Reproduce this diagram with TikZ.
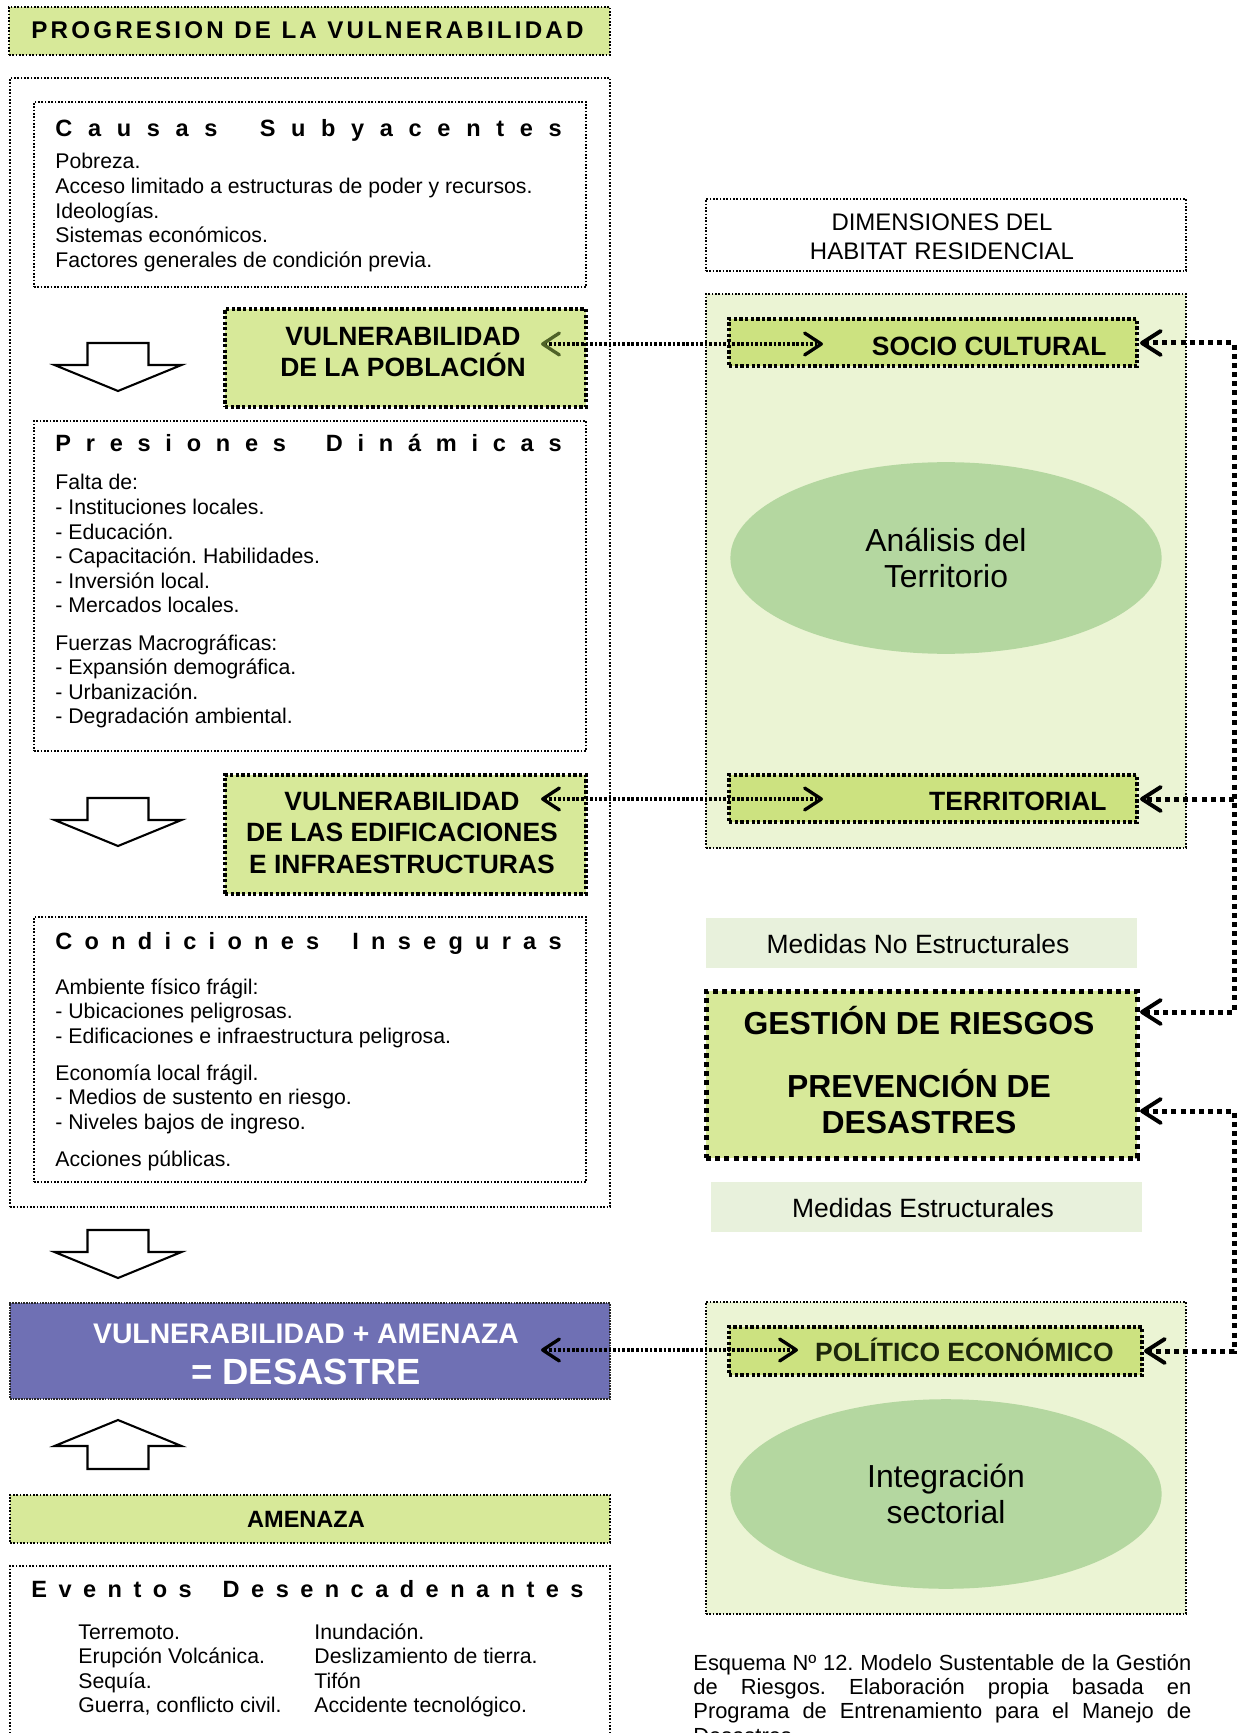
\documentclass[tikz,border=0pt]{standalone}
\usepackage{fontspec}
\setmainfont{Liberation Sans}
\usetikzlibrary{arrows.meta,fit,shapes.geometric}

\definecolor{titlegreen}{RGB}{215,233,153}
\definecolor{panelgreen}{RGB}{235,244,212}
\definecolor{dimgreen}{RGB}{204,226,128}
\definecolor{ovalgreen}{RGB}{180,215,160}
\definecolor{paleband}{RGB}{232,241,220}
\definecolor{disasterblue}{RGB}{111,112,180}
\definecolor{olivetip}{RGB}{79,98,40}
\definecolor{darkolive}{RGB}{28,38,12}

% letter-spaced headings spread over a fixed width
\newcommand\spreadline[2]{\makebox[#1][s]{#2}}
\newcommand\lsp{\hfill}
\newcommand\wsp{\hspace{0pt plus 2.7fill}}
\newcommand\twsp{\hspace{0pt plus 3.3fill}}

\tikzset{
  finebox/.style={draw=black, line width=0.8pt, dash pattern=on 0.8pt off 0.8pt, inner sep=0pt},
  medbox/.style={draw=black, line width=1.8pt, dash pattern=on 1.6pt off 1.1pt, inner sep=0pt},
  heavybox/.style={draw=black, line width=2.4pt, dash pattern=on 2.4pt off 2pt, inner sep=0pt},
  densebox/.style={draw=black!85, line width=1pt, dash pattern=on 0.8pt off 0.5pt, inner sep=0pt},
  band/.style={fill=paleband, inner sep=0pt},
  bandtext/.style={inner sep=0pt, font=\fontsize{12.7}{15}\selectfont},
  oval/.style={ellipse, fill=ovalgreen, inner sep=0pt, minimum width=207pt,
    font=\fontsize{15.3}{17.5}\selectfont, align=center},
  bodytext/.style={anchor=base west, inner sep=0pt, font=\fontsize{10.2}{11.8}\selectfont},
  header/.style={anchor=base west, inner sep=0pt, font=\bfseries\fontsize{11.3}{12}\selectfont},
  boxlabel/.style={font=\bfseries\fontsize{12.7}{15.2}\selectfont, align=center, inner sep=0pt},
  blockarrow/.style={draw=black, line width=1pt, fill=white, line join=miter},
  link/.style={line width=1.7pt, dash pattern=on 1.3pt off 0.9pt},
  rail/.style={line width=2.4pt, dash pattern=on 2.4pt off 2pt},
  chev/.tip={Straight Barb[length=8pt, width=10.5pt, line width=1.6pt, round]},
  olivechev/.tip={Straight Barb[length=8pt, width=10.5pt, line width=1.6pt, round, color=olivetip]},
  bigchev/.tip={Straight Barb[length=9pt, width=11.5pt, line width=1.9pt, round]},
  downblock/.pic={\draw[blockarrow] (-30.5,0) -- (30.5,0) -- (30.5,22) -- (63.5,22)
      -- (0,48) -- (-63.5,22) -- (-30.5,22) -- cycle;},
  upblock/.pic={\draw[blockarrow] (0,0) -- (63.5,26) -- (30.5,26) -- (30.5,49)
      -- (-30.5,49) -- (-30.5,26) -- (-63.5,26) -- cycle;}
}

\begin{document}
\frenchspacing
\begin{tikzpicture}[x=0.48pt, y=-0.48pt]
\useasboundingbox (0,0) rectangle (1241,1733);
\fill[white] (0,0) rectangle (1241,1733);

% ---------------- left column: progression of vulnerability ----------------
\node[finebox, fill=titlegreen, fit={(9,7) (610,55)}] (title) {};
\node[anchor=base west, inner sep=0pt, font=\bfseries\fontsize{11.6}{12}\selectfont]
  (titletext) at (31,39) {\spreadline{265pt}{P\lsp R\lsp O\lsp G\lsp R\lsp E\lsp S\lsp I\lsp O\lsp N\twsp
  D\lsp E\twsp L\lsp A\twsp V\lsp U\lsp L\lsp N\lsp E\lsp R\lsp A\lsp B\lsp I\lsp L\lsp I\lsp D\lsp A\lsp D}};

\node[finebox, fit={(10,78) (610,1207)}] (frame) {};

% underlying causes
\node[finebox, fit={(34,102) (586,287)}] (causas) {};
\node[header] (causasHead) at (55,137) {\spreadline{243pt}{C\lsp a\lsp u\lsp s\lsp a\lsp s\wsp
  S\lsp u\lsp b\lsp y\lsp a\lsp c\lsp e\lsp n\lsp t\lsp e\lsp s}};
\node[bodytext] (causasText) at (55,169) {\begin{tabular}[t]{@{}l@{}}
  Pobreza.\\
  Acceso limitado a estructuras de poder y recursos.\\
  Ideologías.\\
  Sistemas económicos.\\
  Factores generales de condición previa.
\end{tabular}};

\pic at (118,343) {downblock};
\node[medbox, fill=titlegreen, fit={(225,309) (586,407)}] (vpob) {};
\node[boxlabel] (vpobText) at (403,352) {VULNERABILIDAD\\DE LA POBLACIÓN};

% dynamic pressures
\node[finebox, fit={(34,421) (586,751)}] (presiones) {};
\node[header] (presionesHead) at (55,452) {\spreadline{243pt}{P\lsp r\lsp e\lsp s\lsp i\lsp o\lsp n\lsp e\lsp s\wsp
  D\lsp i\lsp n\lsp á\lsp m\lsp i\lsp c\lsp a\lsp s}};
\node[bodytext] (presionesText) at (55,490) {\begin{tabular}[t]{@{}l@{}}
  Falta de:\\
  - Instituciones locales.\\
  - Educación.\\
  - Capacitación. Habilidades.\\
  - Inversión local.\\
  - Mercados locales.\\[6pt]
  Fuerzas Macrográficas:\\
  - Expansión demográfica.\\
  - Urbanización.\\
  - Degradación ambiental.
\end{tabular}};

\pic at (118,798) {downblock};
\node[medbox, fill=titlegreen, fit={(225,775) (586,894)}] (vedif) {};
\node[boxlabel] (vedifText) at (402,833) {VULNERABILIDAD\\DE LAS EDIFICACIONES\\E INFRAESTRUCTURAS};

% unsafe conditions
\node[finebox, fit={(34,917) (586,1182)}] (condiciones) {};
\node[header] (condicionesHead) at (55,949) {\spreadline{243pt}{C\lsp o\lsp n\lsp d\lsp i\lsp c\lsp i\lsp o\lsp n\lsp e\lsp s\wsp
  I\lsp n\lsp s\lsp e\lsp g\lsp u\lsp r\lsp a\lsp s}};
\node[bodytext] (condicionesText) at (55,994) {\begin{tabular}[t]{@{}l@{}}
  Ambiente físico frágil:\\
  - Ubicaciones peligrosas.\\
  - Edificaciones e infraestructura peligrosa.\\[6pt]
  Economía local frágil.\\
  - Medios de sustento en riesgo.\\
  - Niveles bajos de ingreso.\\[6pt]
  Acciones públicas.
\end{tabular}};

\pic at (118,1230) {downblock};

% disaster
\node[densebox, fill=disasterblue, fit={(10,1303) (610,1399)}] (desastre) {};
\node[inner sep=0pt, text=white, font=\bfseries\fontsize{13.6}{16}\selectfont] (desastreA) at (306,1334)
  {VULNERABILIDAD + AMENAZA};
\node[inner sep=0pt, text=white, font=\bfseries\fontsize{17.5}{20}\selectfont] (desastreB) at (306,1372)
  {= DESASTRE};

\pic at (118,1420) {upblock};

% hazard
\node[finebox, fill=titlegreen, fit={(10,1495) (610,1543)}] (amenaza) {};
\node[inner sep=0pt, font=\bfseries\fontsize{11.3}{13}\selectfont] (amenazaText) at (306,1519) {AMENAZA};

\node[finebox, fit={(10,1566) (610,1780)}] (eventos) {};
\node[header] (eventosHead) at (31,1597) {\spreadline{265pt}{E\lsp v\lsp e\lsp n\lsp t\lsp o\lsp s\wsp
  D\lsp e\lsp s\lsp e\lsp n\lsp c\lsp a\lsp d\lsp e\lsp n\lsp a\lsp n\lsp t\lsp e\lsp s}};
\node[bodytext] (eventosA) at (78,1639) {\begin{tabular}[t]{@{}l@{}}
  Terremoto.\\ Erupción Volcánica.\\ Sequía.\\ Guerra, conflicto civil.
\end{tabular}};
\node[bodytext] (eventosB) at (314,1639) {\begin{tabular}[t]{@{}l@{}}
  Inundación.\\ Deslizamiento de tierra.\\ Tifón\\ Accidente tecnológico.
\end{tabular}};

% ---------------- right column: residential habitat dimensions ----------------
\node[finebox, fill=white, fit={(706,199) (1186,271)}] (dims) {};
\node[inner sep=0pt, align=center, font=\fontsize{11.5}{13.9}\selectfont] (dimsText) at (942,237)
  {DIMENSIONES DEL\\HABITAT RESIDENCIAL};

\node[finebox, fill=panelgreen, fit={(706,294) (1186,848)}] (panelA) {};
\node[medbox, fill=dimgreen, fit={(729,319) (1137,366)}] (socio) {};
\node[boxlabel, anchor=east] (socioText) at (1107,346) {SOCIO CULTURAL};
\node[oval, minimum height=92pt] (analisis) at (946,558) {Análisis del\\Territorio};
\node[medbox, fill=dimgreen, fit={(729,775) (1137,822)}] (territorial) {};
\node[boxlabel, anchor=east] (territorialText) at (1107,801) {TERRITORIAL};

\node[band, fit={(706,918) (1137,968)}] (noestruct) {};
\node[bandtext] (noestructText) at (918,944) {Medidas No Estructurales};
\node[heavybox, fill=titlegreen, fit={(706,991) (1137,1158)}] (gestion) {};
\node[inner sep=0pt, align=center, font=\bfseries\fontsize{15.3}{17.3}\selectfont] (gestionText) at (919,1070)
  {GESTIÓN DE RIESGOS\\[12.5pt]PREVENCIÓN DE\\DESASTRES};
\node[band, fit={(711,1182) (1142,1232)}] (estruct) {};
\node[bandtext] (estructText) at (923,1208) {Medidas Estructurales};

\node[finebox, fill=panelgreen, fit={(706,1302) (1186,1614)}] (panelB) {};
\node[medbox, fill=dimgreen, fit={(729,1327) (1142,1375)}] (politico) {};
\node[boxlabel, anchor=base east, text=darkolive] (politicoText) at (1114,1361) {POLÍTICO ECONÓMICO};
\node[oval, minimum height=91pt] (integracion) at (946,1494) {Integración\\sectorial};

% caption
\node[anchor=base west, inner sep=0pt] (caption) at (693,1670) {\parbox[t]{239pt}{%
  \fontsize{10.5}{11.7}\selectfont\frenchspacing
  Esquema Nº 12. Modelo Sustentable de la Gestión\linebreak
  de Riesgos. Elaboración propia basada en\linebreak
  Programa de Entrenamiento para el Manejo de\linebreak
  Desastres.}};

% ---------------- connectors ----------------
\coordinate (vpobTip) at (541,344);
\coordinate (socioTip) at (823,344);
\coordinate (vedifTip) at (541,799);
\coordinate (territorialTip) at (823,799);
\coordinate (desastreTip) at (541,1350);
\coordinate (politicoTip) at (798,1350);

\draw[link, {olivechev}-{chev}] (vpobTip) -- (socioTip);
\draw[link, {chev}-{chev}] (vedifTip) -- (territorialTip);
\draw[link, {chev}-{chev}] (desastreTip) -- (politicoTip);

\coordinate (railTop) at (1234,343);
\coordinate (railTer) at (1234,799);
\coordinate (railG1) at (1234,1012);
\coordinate (railG2) at (1234,1111);
\coordinate (railBot) at (1234,1351);
\coordinate (socioIn) at (1140,343);
\coordinate (territorialIn) at (1140,799);
\coordinate (gestionInA) at (1140,1012);
\coordinate (gestionInB) at (1140,1111);
\coordinate (politicoIn) at (1144,1351);

\draw[rail, {bigchev}-{bigchev}] (socioIn) -- (railTop) -- (railG1) -- (gestionInA);
\draw[rail, -{bigchev}] (railTer) -- (territorialIn);
\draw[rail, {bigchev}-{bigchev}] (gestionInB) -- (railG2) -- (railBot) -- (politicoIn);

\end{tikzpicture}
\end{document}
